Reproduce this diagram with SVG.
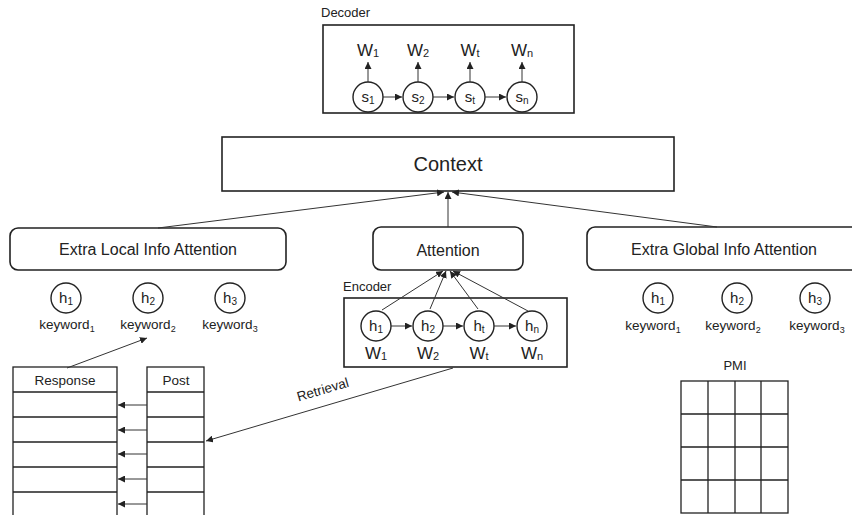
<svg xmlns="http://www.w3.org/2000/svg" width="852" height="515" viewBox="0 0 852 515">
<defs>
<marker id="ah" viewBox="0 0 10 10" refX="10" refY="5" markerWidth="7" markerHeight="7" markerUnits="userSpaceOnUse" orient="auto">
<path d="M0,0 L10,5 L0,10 z" fill="#222"/>
</marker>
<style>
text{font-family:"Liberation Sans",Arial,sans-serif;fill:#222}
.box{fill:#fff;stroke:#222;stroke-width:1.6}
.cir{fill:#fff;stroke:#222;stroke-width:1.4}
.arr{fill:none;stroke:#333;stroke-width:1;marker-end:url(#ah)}
.grid{fill:none;stroke:#222;stroke-width:1.3}
.c{text-anchor:middle}
</style>
</defs>
<rect width="852" height="515" fill="#fff"/>

<g id="decoder">
<text x="321" y="17" font-size="13">Decoder</text>
<rect class="box" x="323" y="25" width="251" height="88"/>
<g font-size="17" class="c">
<text x="368" y="56">W<tspan font-size="11" dy="1">1</tspan></text>
<text x="418" y="56">W<tspan font-size="11" dy="1">2</tspan></text>
<text x="470" y="56">W<tspan font-size="11" dy="1">t</tspan></text>
<text x="522" y="56">W<tspan font-size="11" dy="1">n</tspan></text>
</g>
<circle class="cir" cx="368" cy="97" r="15"/>
<circle class="cir" cx="418" cy="97" r="15"/>
<circle class="cir" cx="470" cy="97" r="15"/>
<circle class="cir" cx="522" cy="97" r="15"/>
<g font-size="15" class="c">
<text x="368" y="102">s<tspan font-size="10" dy="2">1</tspan></text>
<text x="418" y="102">s<tspan font-size="10" dy="2">2</tspan></text>
<text x="470" y="102">s<tspan font-size="10" dy="2">t</tspan></text>
<text x="522" y="102">s<tspan font-size="10" dy="2">n</tspan></text>
</g>
</g>

<g id="context">
<rect class="box" x="222" y="137" width="452" height="54"/>
<text x="448" y="171" font-size="20" class="c">Context</text>
</g>

<g id="local-attention">
<rect class="box" x="10" y="228" width="276" height="42" rx="8"/>
<text x="148" y="255" font-size="16" class="c">Extra Local Info Attention</text>
</g>

<g id="attention">
<rect class="box" x="373" y="227" width="150" height="43" rx="8"/>
<text x="448" y="256" font-size="16" class="c">Attention</text>
</g>

<g id="global-attention">
<rect class="box" x="587" y="227" width="274" height="43" rx="8"/>
<text x="724" y="255" font-size="16" class="c">Extra Global Info Attention</text>
</g>

<g id="local-keywords">
<circle class="cir" cx="66" cy="298" r="15"/>
<circle class="cir" cx="148" cy="298" r="15"/>
<circle class="cir" cx="230" cy="298" r="15"/>
<g font-size="15" class="c">
<text x="66" y="303">h<tspan font-size="10" dy="2">1</tspan></text>
<text x="148" y="303">h<tspan font-size="10" dy="2">2</tspan></text>
<text x="230" y="303">h<tspan font-size="10" dy="2">3</tspan></text>
</g>
<g font-size="13.5" class="c">
<text x="67" y="329">keyword<tspan font-size="9" dy="3">1</tspan></text>
<text x="148" y="329">keyword<tspan font-size="9" dy="3">2</tspan></text>
<text x="230" y="329">keyword<tspan font-size="9" dy="3">3</tspan></text>
</g>
</g>

<g id="global-keywords">
<circle class="cir" cx="658" cy="298" r="15"/>
<circle class="cir" cx="737" cy="298" r="15"/>
<circle class="cir" cx="815" cy="298" r="15"/>
<g font-size="15" class="c">
<text x="658" y="303">h<tspan font-size="10" dy="2">1</tspan></text>
<text x="737" y="303">h<tspan font-size="10" dy="2">2</tspan></text>
<text x="815" y="303">h<tspan font-size="10" dy="2">3</tspan></text>
</g>
<g font-size="13.5" class="c">
<text x="653" y="330">keyword<tspan font-size="9" dy="3">1</tspan></text>
<text x="733" y="330">keyword<tspan font-size="9" dy="3">2</tspan></text>
<text x="817" y="330">keyword<tspan font-size="9" dy="3">3</tspan></text>
</g>
</g>

<g id="encoder">
<text x="343" y="291" font-size="13">Encoder</text>
<rect class="box" x="344" y="298" width="223" height="69"/>
<circle class="cir" cx="376" cy="326" r="15"/>
<circle class="cir" cx="428" cy="326" r="15"/>
<circle class="cir" cx="479" cy="326" r="15"/>
<circle class="cir" cx="532" cy="326" r="15"/>
<g font-size="15" class="c">
<text x="376" y="331">h<tspan font-size="10" dy="2">1</tspan></text>
<text x="428" y="331">h<tspan font-size="10" dy="2">2</tspan></text>
<text x="479" y="331">h<tspan font-size="10" dy="2">t</tspan></text>
<text x="532" y="331">h<tspan font-size="10" dy="2">n</tspan></text>
</g>
<g font-size="17" class="c">
<text x="376" y="359">W<tspan font-size="11" dy="1">1</tspan></text>
<text x="428" y="359">W<tspan font-size="11" dy="1">2</tspan></text>
<text x="479" y="359">W<tspan font-size="11" dy="1">t</tspan></text>
<text x="532" y="359">W<tspan font-size="11" dy="1">n</tspan></text>
</g>
</g>

<g id="response-table">
<rect class="grid" x="13" y="367" width="104" height="160"/>
<path class="grid" d="M13,392H117M13,417H117M13,442H117M13,467H117M13,492H117"/>
<text x="65" y="385" font-size="13.5" class="c">Response</text>
</g>

<g id="post-table">
<rect class="grid" x="147" y="367" width="57" height="160"/>
<path class="grid" d="M147,392H204M147,417H204M147,442H204M147,467H204M147,492H204"/>
<text x="176" y="385" font-size="13.5" class="c">Post</text>
</g>

<g id="pmi">
<text x="735" y="370" font-size="13" class="c">PMI</text>
<rect class="grid" x="681" y="381" width="107" height="132"/>
<path class="grid" d="M708,381V513M735,381V513M761,381V513M681,414H788M681,447H788M681,480H788"/>
</g>

<g id="connectors">
<path class="arr" d="M383,97H402"/>
<path class="arr" d="M433,97H454"/>
<path class="arr" d="M485,97H506"/>
<path class="arr" d="M368,82V62"/>
<path class="arr" d="M418,82V62"/>
<path class="arr" d="M470,82V62"/>
<path class="arr" d="M522,82V62"/>
<path class="arr" d="M391,326H412"/>
<path class="arr" d="M443,326H463"/>
<path class="arr" d="M494,326H516"/>
<path class="arr" d="M382,310L443,271"/>
<path class="arr" d="M430,309L446,271"/>
<path class="arr" d="M478,309L450,271"/>
<path class="arr" d="M528,311L453,271"/>
<path class="arr" d="M448,227V192"/>
<path class="arr" d="M158,228L444,192"/>
<path class="arr" d="M717,227L452,192"/>
<path class="arr" d="M67,368L147,338"/>
<path class="arr" d="M147,405H118"/>
<path class="arr" d="M147,430H118"/>
<path class="arr" d="M147,454H118"/>
<path class="arr" d="M147,479H118"/>
<path class="arr" d="M147,504H118"/>
<path class="arr" d="M453,368L206,441"/>
<text x="324" y="394" font-size="13.5" class="c" transform="rotate(-16.4 324 394)">Retrieval</text>
</g>
</svg>
